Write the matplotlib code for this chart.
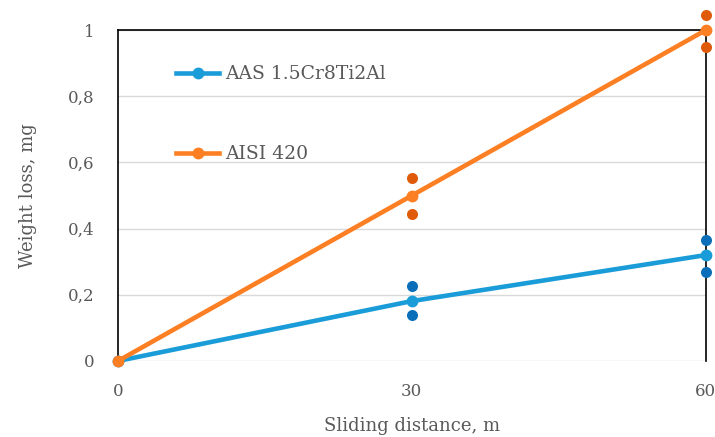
import matplotlib
matplotlib.use('Agg')
from matplotlib import pyplot as plt
from matplotlib.ticker import FuncFormatter

# данные
x = [0, 30, 60]
aas = [0, 0.181, 0.320]
aisi = [0, 0.500, 1.000]

# разброс измерений
x_pts = [30, 30, 60, 60]
aas_pts = [0.227, 0.139, 0.366, 0.269]
aisi_pts = [0.553, 0.444, 1.045, 0.949]

x_ticks = [0, 30, 60]
y_ticks = [0, 0.2, 0.4, 0.6, 0.8, 1.0]

plt.rcParams['font.family'] = ['DejaVu Serif']
grey = '#595959'

fig = plt.figure(figsize=(7.15, 4.37), dpi=100)
ax = fig.add_axes([0.165, 0.174, 0.822, 0.757])

ax.plot(x, aas, color='#1a9cd8', lw=3.3, marker='o', ms=7.5, label='AAS 1.5Cr8Ti2Al',
        clip_on=False, zorder=3)
ax.plot(x, aisi, color='#fd7f23', lw=3.3, marker='o', ms=7.5, label='AISI 420',
        clip_on=False, zorder=3)
ax.scatter(x_pts, aas_pts, s=48, color='#0a6fb8', clip_on=False, zorder=4)
ax.scatter(x_pts, aisi_pts, s=48, color='#df5b0a', clip_on=False, zorder=4)

ax.set_xlim(0, 60)
ax.set_ylim(0, 1)
ax.set_xticks(x_ticks)
ax.set_yticks(y_ticks)
ax.yaxis.set_major_formatter(FuncFormatter(lambda v, p: ('%g' % v).replace('.', ',')))
ax.tick_params(length=0, labelsize=12, labelcolor=grey)
ax.tick_params(axis='y', pad=17)
ax.tick_params(axis='x', pad=16)

# сетка
ax.grid(axis='y', color='#d9d9d9', lw=1)
ax.set_axisbelow(True)
for s in ['left', 'top', 'right']:
    ax.spines[s].set_color('black')
    ax.spines[s].set_linewidth(1.2)
ax.spines['bottom'].set_visible(False)

ax.set_xlabel('Sliding distance, m', fontsize=13, color=grey, labelpad=12)
ax.set_ylabel('Weight loss, mg', fontsize=13, color=grey, labelpad=22)

ax.legend(loc='upper left', bbox_to_anchor=(0.07, 0.945), frameon=False,
          fontsize=13.5, labelcolor=grey, labelspacing=3.3, handlelength=2.3,
          handletextpad=0.3)

plt.savefig('out.png', dpi=100)
